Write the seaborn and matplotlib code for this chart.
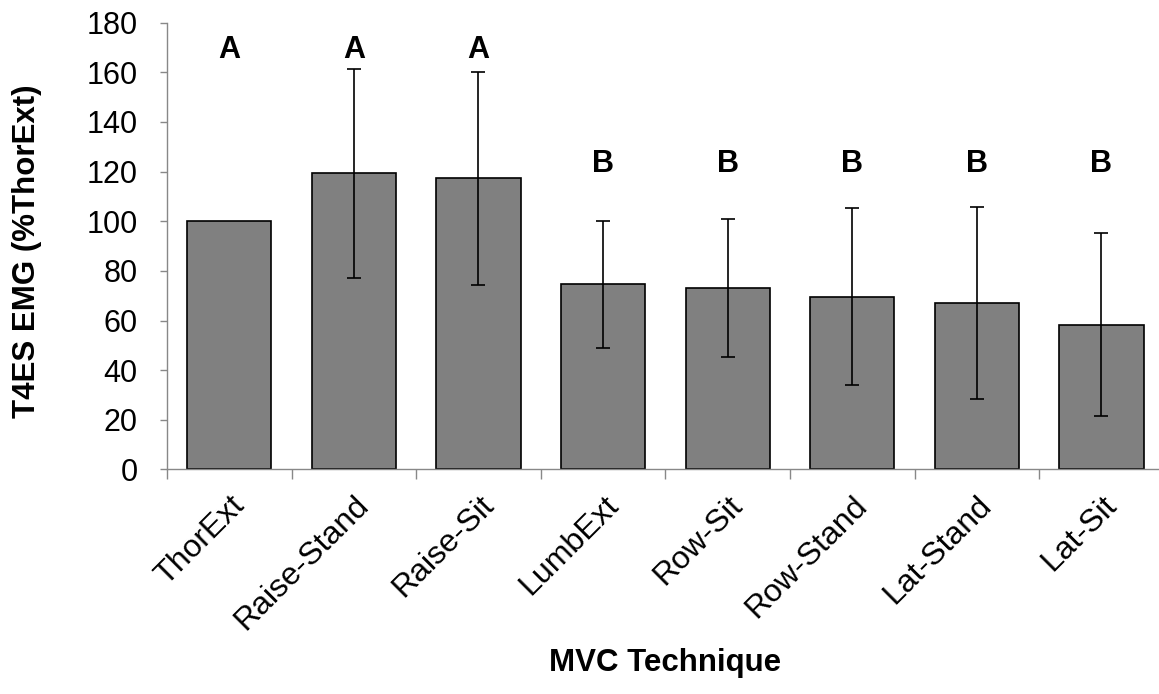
import numpy as np
import pandas as pd
import matplotlib
matplotlib.use('Agg')
import matplotlib.pyplot as plt
import seaborn as sns

# chart data
techniques = ['ThorExt', 'Raise-Stand', 'Raise-Sit', 'LumbExt',
              'Row-Sit', 'Row-Stand', 'Lat-Stand', 'Lat-Sit']
mean_emg = [100.0, 119.3, 117.3, 74.7, 73.3, 69.6, 67.1, 58.4]
sd_emg = [0.0, 42.0, 43.0, 25.6, 27.8, 35.7, 38.6, 36.8]
groups = ['A', 'A', 'A', 'B', 'B', 'B', 'B', 'B']

df = pd.DataFrame({'technique': techniques, 'emg': mean_emg, 'sd': sd_emg})

sns.set_style('white')
plt.rcParams['font.family'] = ['Liberation Sans', 'DejaVu Sans']
plt.rcParams['text.color'] = 'black'
plt.rcParams['axes.labelcolor'] = 'black'
plt.rcParams['xtick.color'] = 'black'
plt.rcParams['ytick.color'] = 'black'

fig = plt.figure(figsize=(11.59, 6.94), dpi=100)
ax = fig.add_axes([0.1441, 0.3235, 0.860, 0.6438])

sns.barplot(data=df, x='technique', y='emg', color='#808080', saturation=1,
            edgecolor='black', linewidth=1.2, width=0.675, ax=ax)

# error bars (ThorExt is the reference, no bar)
xs = np.arange(len(techniques))
has_err = df['sd'] > 0
ax.errorbar(xs[has_err], df['emg'][has_err], yerr=df['sd'][has_err],
            fmt='none', ecolor='black', elinewidth=1.2, capsize=5, capthick=1.2)

# significance letters
letter_level = {'A': 169, 'B': 123}
for x, g in zip(xs, groups):
    ax.text(x, letter_level[g], g, ha='center', va='center',
            fontsize=22, fontweight='bold', color='black')

ax.set_xlim(-0.5, len(techniques) - 0.5)
ax.set_ylim(0, 180)
ax.set_yticks(np.arange(0, 181, 20))

for side in ['top', 'right']:
    ax.spines[side].set_visible(False)
for side in ['left', 'bottom']:
    ax.spines[side].set_color('#888888')
    ax.spines[side].set_linewidth(1.0)

ax.set_xticks(xs)
ax.set_xticks(np.arange(-0.5, len(techniques), 1), minor=True)
ax.tick_params(axis='x', which='major', length=0, pad=15)
ax.tick_params(axis='x', which='minor', length=7, color='#888888', width=1.0,
               direction='out', bottom=True)
ax.tick_params(axis='y', length=5, color='#888888', labelcolor='black',
               width=1.0, direction='out', left=True, labelsize=22, pad=16)
ax.set_xticklabels(techniques, rotation=45, ha='right',
                   rotation_mode='anchor', fontsize=23, color='black')

ax.set_xlabel('MVC Technique', fontsize=22.5, fontweight='bold')
ax.set_ylabel('T4ES EMG (%ThorExt)', fontsize=22.5, fontweight='bold')
ax.xaxis.set_label_coords(0.5, -0.40)
ax.yaxis.set_label_coords(-0.125, 0.488)

fig.savefig('out.png', dpi=100)
